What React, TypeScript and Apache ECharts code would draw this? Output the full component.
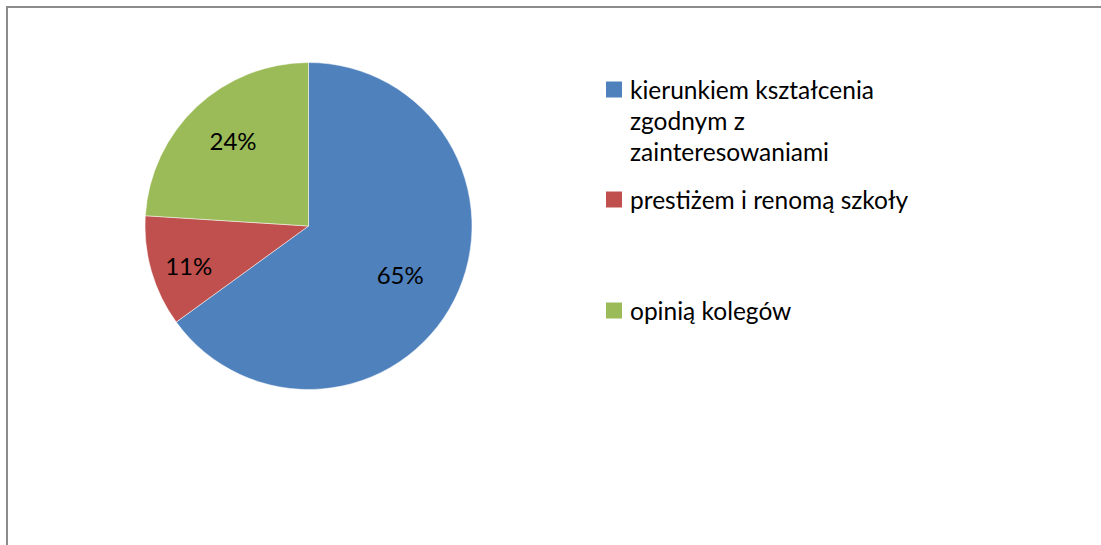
import React, { useEffect, useRef } from "react";
import * as echarts from "echarts";

const categories = [
  "kierunkiem kształcenia\nzgodnym z\nzainteresowaniami",
  "prestiżem i renomą szkoły",
  "opinią kolegów",
];
const values = [65, 11, 24];
const colors = ["#4F81BD", "#C0504D", "#9BBB59"];
// label nudges: horizontal padding, vertical via empty line
const labelPadding = [
  [0, 26, 0, 0],
  [0, 14, 0, 0],
  [0, 0, 0, 10],
];
const labelFormat = ["{c}%\n", "\n{c}%", "{c}%"];
const labelLineHeight = [10, 14, 24];

const FONT = "Lato";

export default function App() {
  const ref = useRef<HTMLDivElement>(null);
  useEffect(() => {
    const chart = echarts.init(ref.current!, null, { renderer: "svg" });
    const data = categories.map((name, i) => ({
      name,
      value: values[i],
      itemStyle: { color: colors[i] },
    }));
    const legendBase = {
      orient: "vertical" as const,
      left: 606,
      padding: 0,
      itemWidth: 16,
      itemHeight: 16,
      icon: "rect",
      selectedMode: false,
      itemStyle: { borderWidth: 0 },
    };
    const textStyle = {
      fontFamily: FONT,
      fontSize: 24.5,
      lineHeight: 31,
      color: "#000",
      padding: [0, 0, 0, 3],
    };
    chart.setOption({
      animation: false,
      backgroundColor: "#ffffff",
      graphic: [
        {
          type: "rect",
          shape: { x: 7, y: 7, width: 1200, height: 700 },
          style: { fill: "none", stroke: "#8c8c8c", lineWidth: 2 },
          silent: true,
        },
      ],
      legend: [
        {
          ...legendBase,
          top: 12,
          data: [categories[0]],
          formatter: (name: string) => "\n\n" + name,
          textStyle,
        },
        {
          ...legendBase,
          top: 184,
          data: [categories[1]],
          textStyle,
        },
        {
          ...legendBase,
          top: 295,
          data: [categories[2]],
          textStyle,
        },
      ],
      series: [
        {
          type: "pie",
          center: [308.5, 226],
          radius: [0, 163.5],
          startAngle: 90,
          clockwise: true,
          data,
          label: { show: false },
          labelLine: { show: false },
          itemStyle: { borderColor: "#ffffff", borderWidth: 0.5 },
          emphasis: { disabled: true },
        },
        {
          type: "pie",
          center: [308.5, 226],
          radius: [0, 229],
          startAngle: 90,
          clockwise: true,
          silent: true,
          legendHoverLink: false,
          data: categories.map((name, i) => ({
            name,
            value: values[i],
            itemStyle: { color: "rgba(0,0,0,0)" },
            label: {
              padding: labelPadding[i],
              formatter: labelFormat[i],
              lineHeight: labelLineHeight[i],
            },
          })),
          label: {
            show: true,
            position: "inside",
            formatter: "{c}%",
            fontFamily: FONT,
            fontSize: 24,
            color: "#000",
          },
          labelLine: { show: false },
          emphasis: { disabled: true },
        },
      ],
    });
    return () => chart.dispose();
  }, []);
  return (
    <div
      ref={ref}
      style={{ position: "fixed", left: 0, top: 0, width: 1101, height: 545 }}
    />
  );
}
